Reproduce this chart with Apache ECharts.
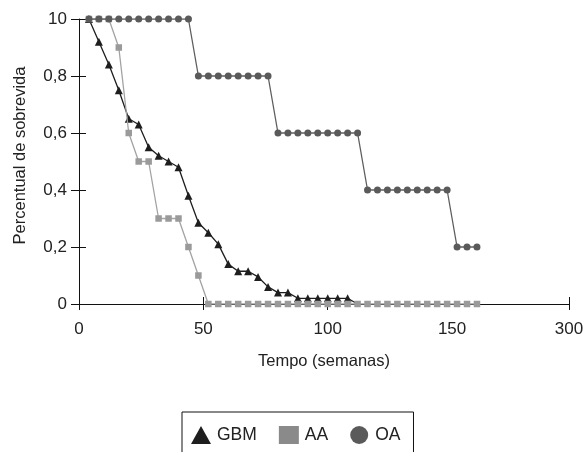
<!DOCTYPE html>
<html>
<head>
<meta charset="utf-8">
<script src="https://cdn.jsdelivr.net/npm/echarts@6/dist/echarts.min.js"></script>
<style>
html,body{margin:0;padding:0;background:#fff;}
#chart{width:587px;height:452px;}
</style>
</head>
<body>
<div id="chart"></div>
<script>
// ---- data ----
var seriesNames = ['GBM', 'AA', 'OA'];

var gbmWeeks = [4, 8, 12, 16, 20, 24, 28, 32, 36, 40, 44, 48, 52, 56, 60, 64, 68, 72, 76, 80, 84, 88, 92, 96, 100, 104, 108, 112];
var gbmSurvival = [1.0, 0.92, 0.84, 0.75, 0.65, 0.63, 0.55, 0.52, 0.50, 0.48, 0.38, 0.285, 0.25, 0.21, 0.14, 0.115, 0.115, 0.095, 0.06, 0.04, 0.04, 0.02, 0.02, 0.02, 0.02, 0.02, 0.02, 0];

var aaWeeks = [4, 8, 12, 16, 20, 24, 28, 32, 36, 40, 44, 48, 52, 56, 60, 64, 68, 72, 76, 80, 84, 88, 92, 96, 100, 104, 108, 112, 116, 120, 124, 128, 132, 136, 140, 144, 148, 152, 156, 160];
var aaSurvival = [1, 1, 1, 0.9, 0.6, 0.5, 0.5, 0.3, 0.3, 0.3, 0.2, 0.1, 0, 0, 0, 0, 0, 0, 0, 0, 0, 0, 0, 0, 0, 0, 0, 0, 0, 0, 0, 0, 0, 0, 0, 0, 0, 0, 0, 0];

var oaWeeks = [4, 8, 12, 16, 20, 24, 28, 32, 36, 40, 44, 48, 52, 56, 60, 64, 68, 72, 76, 80, 84, 88, 92, 96, 100, 104, 108, 112, 116, 120, 124, 128, 132, 136, 140, 144, 148, 152, 156, 160];
var oaSurvival = [1, 1, 1, 1, 1, 1, 1, 1, 1, 1, 1, 0.8, 0.8, 0.8, 0.8, 0.8, 0.8, 0.8, 0.8, 0.6, 0.6, 0.6, 0.6, 0.6, 0.6, 0.6, 0.6, 0.6, 0.4, 0.4, 0.4, 0.4, 0.4, 0.4, 0.4, 0.4, 0.4, 0.2, 0.2, 0.2];

var xTickValues = [0, 50, 100, 197];
var xLabelValues = [0, 50, 100, 150, 197];
var xTickLabels = ['0', '50', '100', '150', '300'];
var yTickValues = [0, 0.2, 0.4, 0.6, 0.8, 1.0];
var yTickLabels = ['0', '0,2', '0,4', '0,6', '0,8', '10'];

var xTitle = 'Tempo (semanas)';
var yTitle = 'Percentual de sobrevida';

// ---- chart ----
var FONT = "'Liberation Sans', Arial, sans-serif";
var TXT = '#222';

function pairs(xs, ys) {
  return xs.map(function (x, i) { return [x, ys[i]]; });
}
var gbmData = pairs(gbmWeeks, gbmSurvival).map(function (p, i, arr) {
  return i === arr.length - 1 ? { value: p, symbol: 'none' } : p;
});

function xLabelFmt(v) {
  var i = xLabelValues.indexOf(v);
  return i >= 0 ? xTickLabels[i] : '';
}
function yLabelFmt(v) {
  for (var i = 0; i < yTickValues.length; i++) {
    if (Math.abs(yTickValues[i] - v) < 1e-6) return yTickLabels[i];
  }
  return '';
}

var chart = echarts.init(document.getElementById('chart'), null, { renderer: 'canvas' });
chart.setOption({
  animation: false,
  backgroundColor: '#fff',
  textStyle: { fontFamily: FONT },
  grid: { left: 79, right: 18, top: 19, bottom: 148, containLabel: false },
  legend: {
    left: 182, top: 412,
    orient: 'horizontal',
    padding: [14, 13, 13, 9],
    borderColor: '#111', borderWidth: 1,
    itemWidth: 20, itemHeight: 18, itemGap: 22,
    textStyle: { fontFamily: FONT, fontSize: 17.5, color: TXT, padding: [0, 0, 0, 1] },
    data: [
      { name: seriesNames[0], icon: 'triangle', itemStyle: { color: '#1e1e1e' } },
      { name: seriesNames[1], icon: 'rect', itemStyle: { color: '#8a8a8a' } },
      { name: seriesNames[2], icon: 'circle', itemStyle: { color: '#5a5a5a' } }
    ]
  },
  xAxis: [{
    type: 'value', min: 0, max: 197,
    name: xTitle, nameLocation: 'middle', nameGap: 49,
    nameTextStyle: { fontFamily: FONT, fontSize: 16.5, color: TXT },
    axisLine: { show: true, lineStyle: { color: '#111', width: 1 } },
    axisTick: { show: true, length: 6, customValues: xTickValues, lineStyle: { color: '#111' } },
    axisLabel: { customValues: xLabelValues, formatter: xLabelFmt, margin: 17, fontFamily: FONT, fontSize: 17, color: TXT },
    splitLine: { show: false }
  }, {
    type: 'value', min: 0, max: 197, position: 'bottom',
    axisLine: { show: false },
    axisTick: { show: true, inside: true, length: 7, customValues: xTickValues, lineStyle: { color: '#111' } },
    axisLabel: { show: false },
    splitLine: { show: false }
  }],
  yAxis: [{
    type: 'value', min: 0, max: 1, interval: 0.2,
    name: yTitle, nameLocation: 'middle', nameGap: 50, nameRotate: 90,
    nameTextStyle: { fontFamily: FONT, fontSize: 16.5, color: TXT, padding: [0, 0, 0, 12] },
    axisLine: { show: true, lineStyle: { color: '#111', width: 1 } },
    axisTick: { show: true, length: 8, lineStyle: { color: '#111' } },
    axisLabel: { formatter: yLabelFmt, margin: 12, fontFamily: FONT, fontSize: 17, color: TXT },
    splitLine: { show: false }
  }, {
    type: 'value', min: 0, max: 1, interval: 0.2, position: 'left',
    axisLine: { show: false },
    axisTick: { show: true, inside: true, length: 7, lineStyle: { color: '#111' } },
    axisLabel: { show: false },
    splitLine: { show: false }
  }],
  series: [{
    name: seriesNames[0], type: 'line', data: gbmData,
    symbol: 'triangle', symbolSize: [8, 8], showSymbol: true,
    lineStyle: { color: '#1e1e1e', width: 1.3 },
    itemStyle: { color: '#1e1e1e' },
    z: 2
  }, {
    name: seriesNames[1], type: 'line', data: pairs(aaWeeks, aaSurvival),
    symbol: 'rect', symbolSize: 6.5, showSymbol: true,
    lineStyle: { color: '#a3a3a3', width: 1.3 },
    itemStyle: { color: '#9a9a9a' },
    z: 3
  }, {
    name: seriesNames[2], type: 'line', data: pairs(oaWeeks, oaSurvival),
    symbol: 'circle', symbolSize: 7, showSymbol: true,
    lineStyle: { color: '#5e5e5e', width: 1.3 },
    itemStyle: { color: '#5a5a5a' },
    z: 4
  }]
});
</script>
</body>
</html>
